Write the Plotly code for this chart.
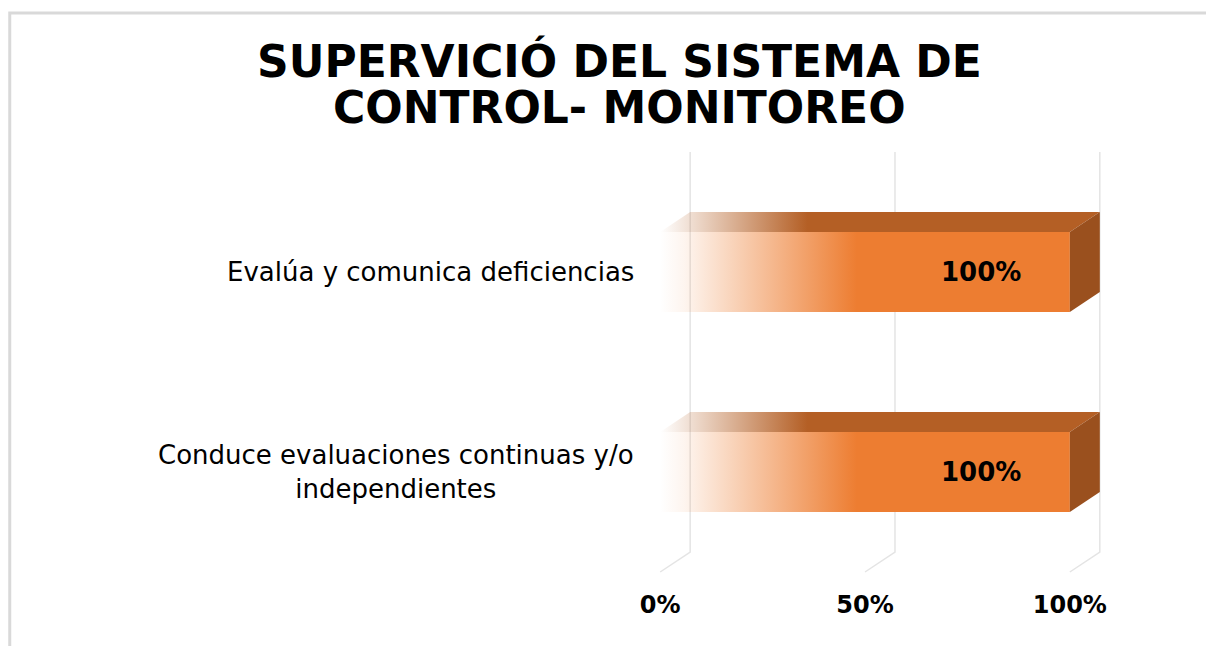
import plotly.graph_objects as go

# ---- data ----
categories = ["Conduce evaluaciones continuas y/o<br>independientes", "Evalúa y comunica deficiencias"]
values = [100, 100]          # percent
bar_labels = ["100%", "100%"]
tick_vals = [0, 50, 100]
tick_text = ["0%", "50%", "100%"]
title_lines = ["SUPERVICIÓ DEL SISTEMA DE", "CONTROL- MONITOREO"]

# ---- styling / geometry (3D look) ----
OFF = 8                  # page body margin
W, H = 1214 - OFF, 646 - OFF
PX_PER_X = 4.1           # px per percent unit
PX_PER_Y = 200.0         # px per category unit
X0_PX = 660 - OFF        # pixel of x=0 (front)
Y0_PX = 472 - OFF        # pixel of category 0
X_RANGE = [-2, 112]
Y_RANGE = [-0.6, 1.7]
ML = X0_PX - (0 - X_RANGE[0]) * PX_PER_X
PW = (X_RANGE[1] - X_RANGE[0]) * PX_PER_X
MR = W - ML - PW
MT = Y0_PX - Y_RANGE[1] * PX_PER_Y
PH = (Y_RANGE[1] - Y_RANGE[0]) * PX_PER_Y
MB = H - MT - PH

DX = 30 / PX_PER_X       # depth offset in x units
DY = 20 / PX_PER_Y       # depth offset in y units
HALF = 0.2               # half bar thickness
FLOOR = -0.5
TOP = 1.5

ORANGE = "237,125,49"
TOPC = "180,95,37"
SIDE = "rgb(154,80,30)"
GRID = "rgb(228,228,228)"
FONT = "DejaVu Sans"

fig = go.Figure()

# gridlines: back wall vertical + floor diagonal
for t in tick_vals:
    fig.add_trace(go.Scatter(
        x=[t, t + DX, t + DX], y=[FLOOR, FLOOR + DY, TOP + DY],
        mode="lines", line=dict(color=GRID, width=1.5),
        hoverinfo="skip", showlegend=False))

# bars
for i, (cat, v) in enumerate(zip(categories, values)):
    c = i
    # top face
    fig.add_trace(go.Scatter(
        x=[0, v, v + DX, DX, 0], y=[c + HALF, c + HALF, c + HALF + DY, c + HALF + DY, c + HALF],
        mode="lines", line=dict(width=0), fill="toself",
        fillgradient=dict(type="horizontal", start=0, stop=v,
                          colorscale=[[0, f"rgba({TOPC},0)"], [0.36, f"rgba({TOPC},1)"], [1, f"rgba({TOPC},1)"]]),
        hoverinfo="skip", showlegend=False))
    # front face
    fig.add_trace(go.Scatter(
        x=[0, v, v, 0, 0], y=[c - HALF, c - HALF, c + HALF, c + HALF, c - HALF],
        mode="lines", line=dict(width=0), fill="toself",
        fillgradient=dict(type="horizontal", start=0, stop=v,
                          colorscale=[[0, f"rgba({ORANGE},0)"], [0.06, f"rgba({ORANGE},0.08)"],
                                      [0.48, f"rgba({ORANGE},1)"], [1, f"rgba({ORANGE},1)"]]),
        hoverinfo="skip", showlegend=False))
    # side face
    fig.add_trace(go.Scatter(
        x=[v, v + DX, v + DX, v, v], y=[c - HALF, c - HALF + DY, c + HALF + DY, c + HALF, c - HALF],
        mode="lines", line=dict(width=0), fill="toself", fillcolor=SIDE,
        hoverinfo="skip", showlegend=False))
    # value label
    fig.add_annotation(x=v, y=c, xref="x", yref="y", text=bar_labels[i], showarrow=False,
                       xanchor="right", xshift=-47, yanchor="middle",
                       font=dict(family=FONT, size=26, color="black", weight="bold"))
    # category label
    fig.add_annotation(x=0, y=c, xref="x", yref="y", text=cat, showarrow=False,
                       xanchor="right", xshift=-24, yanchor="middle", align="center",
                       font=dict(family=FONT, size=26, color="black"))

# title lines
for py, line in zip([61 - OFF, 108 - OFF], title_lines):
    fig.add_annotation(x=(619 - OFF - ML) / PW, y=(MT + PH - py) / PH, xref="paper", yref="paper",
                       text=line, showarrow=False, xanchor="center", yanchor="middle",
                       font=dict(family=FONT, size=44, color="black", weight="bold"))

# chart border
fig.add_shape(type="rect", xref="paper", yref="paper",
              x0=(9 - OFF - ML) / PW, x1=(W + 40 - ML) / PW,
              y0=(MT + PH - (H + 40)) / PH, y1=(MT + PH - (13 - OFF)) / PH,
              line=dict(color="rgb(217,217,217)", width=3), fillcolor="rgba(0,0,0,0)", layer="below")

fig.update_xaxes(range=X_RANGE, tickvals=tick_vals, ticktext=tick_text, showgrid=False,
                 zeroline=False, showline=False, ticks="", ticklabelstandoff=-4,
                 tickfont=dict(family=FONT, size=24, color="black", weight="bold"))
fig.update_yaxes(range=Y_RANGE, showgrid=False, zeroline=False, showline=False,
                 showticklabels=False, ticks="")

fig.update_layout(width=W, height=H, margin=dict(l=ML, r=MR, t=MT, b=MB, pad=0),
                  paper_bgcolor="white", plot_bgcolor="white", showlegend=False)

fig.write_html("out.html")
